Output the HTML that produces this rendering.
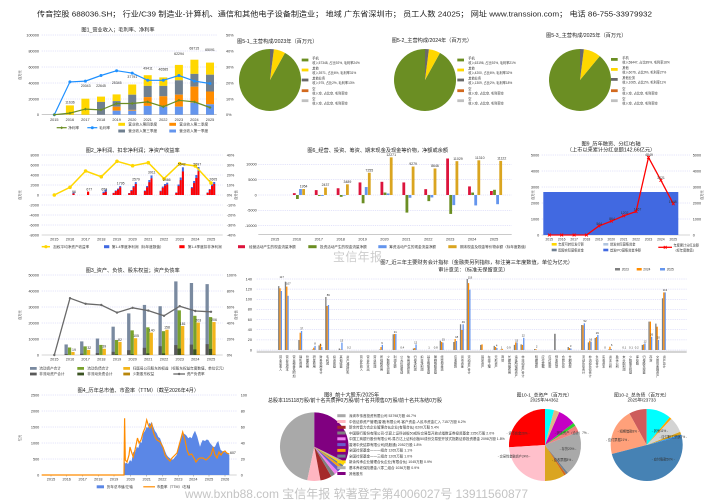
<!DOCTYPE html>
<html><head><meta charset="utf-8">
<style>
html,body{margin:0;padding:0;background:#fff;}
svg{display:block;}
text{font-family:"Liberation Sans","Noto Sans CJK SC",sans-serif;fill:#333;}
.tt{font-size:5.2px;fill:#222;}
.tk{font-size:3.8px;fill:#444;}
.lg{font-size:3.6px;}
.sm{font-size:3.2px;}
.vl{font-size:3.5px;fill:#222;}
.vt{font-size:3.1px;fill:#333;writing-mode:vertical-rl;}
.g{stroke:#c8c8f5;stroke-width:0.5;stroke-dasharray:1.2,1;fill:none;}
.ax{stroke:#aaa;stroke-width:0.6;}
</style></head><body>
<svg width="714" height="500" viewBox="0 0 714 500" xmlns="http://www.w3.org/2000/svg">
<rect width="714" height="500" fill="#fff"/>

<!-- HEADER -->
<text x="37" y="16.5" font-size="7.5" textLength="615" lengthAdjust="spacingAndGlyphs" style="fill:#222">传音控股 688036.SH； 行业/C39 制造业-计算机、通信和其他电子设备制造业； 地域 广东省深圳市； 员工人数 24025； 网址 www.transsion.com； 电话 86-755-33979932</text>

<!-- watermark mid -->
<text x="333" y="261" font-size="12" textLength="49" style="fill:#cdcdcd">宝信年报</text>

<!-- ============ CHART 1 ============ -->
<text class="tt" x="118" y="31.5" text-anchor="middle">图1_营业收入；毛利率、净利率</text>
<g class="g"><path d="M41.7,35H216.7M41.7,51H216.7M41.7,67H216.7M41.7,83H216.7M41.7,99H216.7"/></g>
<path class="ax" d="M41.7,114.7H216.7"/>
<g class="tk" text-anchor="end"><text x="39" y="36.3">100000</text><text x="39" y="52.3">80000</text><text x="39" y="68.3">60000</text><text x="39" y="84.3">40000</text><text x="39" y="100.3">20000</text><text x="39" y="116">0</text></g>
<g class="tk"><text x="226" y="36.3">50%</text><text x="226" y="52.3">40%</text><text x="226" y="68.3">30%</text><text x="226" y="84.3">20%</text><text x="226" y="100.3">10%</text><text x="226" y="116">0%</text></g>
<text class="sm" transform="translate(21,75) rotate(-90)" text-anchor="middle">百万元</text>
<g class="tk" text-anchor="middle"><text x="54.3" y="121">2015</text><text x="69.9" y="121">2016</text><text x="85.4" y="121">2017</text><text x="101" y="121">2018</text><text x="116.6" y="121">2019</text><text x="132.2" y="121">2020</text><text x="147.7" y="121">2021</text><text x="163.3" y="121">2022</text><text x="178.9" y="121">2023</text><text x="194.4" y="121">2024</text><text x="210" y="121">2025</text></g>
<!-- bars -->
<g fill="#ffd700">
<rect x="65.9" y="105.4" width="8" height="9.3"/>
<rect x="81.4" y="98.7" width="8" height="16"/>
<rect x="97" y="96.6" width="8" height="5.3"/>
<rect x="112.6" y="94.4" width="8" height="6.7"/>
<rect x="128.2" y="84.5" width="8" height="10.2"/>
<rect x="143.7" y="75.2" width="8" height="10.7"/>
<rect x="159.3" y="77.4" width="8" height="8.5"/>
<rect x="174.9" y="64.9" width="8" height="15.4"/>
<rect x="190.4" y="59.7" width="8" height="14.2"/>
<rect x="206" y="62.6" width="8" height="12.1"/>
</g>
<g fill="#708090">
<rect x="97" y="101.9" width="8" height="12.8"/>
<rect x="112.6" y="101.1" width="8" height="5.6"/>
<rect x="128.2" y="94.7" width="8" height="15.2"/>
<rect x="143.7" y="85.9" width="8" height="11.2"/>
<rect x="159.3" y="85.9" width="8" height="10.4"/>
<rect x="174.9" y="80.3" width="8" height="14.4"/>
<rect x="190.4" y="73.9" width="8" height="12.8"/>
<rect x="206" y="74.7" width="8" height="16.8"/>
</g>
<g fill="#ff8c00">
<rect x="112.6" y="106.7" width="8" height="4"/>
<rect x="128.2" y="109.9" width="8" height="0.8"/>
<rect x="143.7" y="97.1" width="8" height="8.8"/>
<rect x="159.3" y="96.3" width="8" height="10.4"/>
<rect x="174.9" y="94.7" width="8" height="12"/>
<rect x="190.4" y="86.7" width="8" height="16"/>
<rect x="206" y="91.5" width="8" height="12.8"/>
</g>
<g fill="#6495ed">
<rect x="112.6" y="110.7" width="8" height="4"/>
<rect x="128.2" y="110.7" width="8" height="4"/>
<rect x="143.7" y="105.9" width="8" height="8.8"/>
<rect x="159.3" y="106.7" width="8" height="8"/>
<rect x="174.9" y="106.7" width="8" height="8"/>
<rect x="190.4" y="102.7" width="8" height="12"/>
<rect x="206" y="104.3" width="8" height="10.4"/>
</g>
<polyline fill="none" stroke="#1e90ff" stroke-width="1.2" points="54.3,114.7 69.9,81.9 85.4,81.1 101,75.5 116.6,70.7 132.2,73.1 147.7,80.3 163.3,80.3 178.9,75.5 194.4,81.1 210,83.5"/>
<g fill="#1e90ff"><circle cx="54.3" cy="114.7" r="1.5"/><circle cx="69.9" cy="81.9" r="1.5"/><circle cx="85.4" cy="81.1" r="1.5"/><circle cx="101" cy="75.5" r="1.5"/><circle cx="116.6" cy="70.7" r="1.5"/><circle cx="132.2" cy="73.1" r="1.5"/><circle cx="147.7" cy="80.3" r="1.5"/><circle cx="163.3" cy="80.3" r="1.5"/><circle cx="178.9" cy="75.5" r="1.5"/><circle cx="194.4" cy="81.1" r="1.5"/><circle cx="210" cy="83.5" r="1.5"/></g>
<polyline fill="none" stroke="#6b8e23" stroke-width="1.2" points="54.3,114.7 69.9,113.1 85.4,109.1 101,109.9 116.6,103.5 132.2,103.5 147.7,101.9 163.3,106.7 178.9,100.3 194.4,101.9 210,107.5"/>
<g fill="#6b8e23">
<path d="M54.3,113.2l1.5,1.5l-1.5,1.5l-1.5,-1.5z"/><path d="M69.9,111.6l1.5,1.5l-1.5,1.5l-1.5,-1.5z"/><path d="M85.4,107.6l1.5,1.5l-1.5,1.5l-1.5,-1.5z"/><path d="M101,108.4l1.5,1.5l-1.5,1.5l-1.5,-1.5z"/><path d="M116.6,102l1.5,1.5l-1.5,1.5l-1.5,-1.5z"/><path d="M132.2,102l1.5,1.5l-1.5,1.5l-1.5,-1.5z"/><path d="M147.7,100.4l1.5,1.5l-1.5,1.5l-1.5,-1.5z"/><path d="M163.3,105.2l1.5,1.5l-1.5,1.5l-1.5,-1.5z"/><path d="M178.9,98.8l1.5,1.5l-1.5,1.5l-1.5,-1.5z"/><path d="M194.4,100.4l1.5,1.5l-1.5,1.5l-1.5,-1.5z"/><path d="M210,106l1.5,1.5l-1.5,1.5l-1.5,-1.5z"/>
</g>
<g class="vl" text-anchor="middle"><text x="70" y="103.5">11636</text><text x="85.7" y="87.2">20043</text><text x="101" y="87.2">22645</text><text x="116.7" y="83.9">25345</text><text x="132.3" y="78.2">37791</text><text x="148" y="69.5">49411</text><text x="163.3" y="70.5">46585</text><text x="179" y="54.9">62294</text><text x="194.3" y="49.5">68715</text><text x="210" y="51.2">65091</text></g>
<!-- legend 1 -->
<path d="M56.7,127.7H66.7" stroke="#6b8e23" stroke-width="1.2"/><path d="M61.7,126.2l1.5,1.5l-1.5,1.5l-1.5,-1.5z" fill="#6b8e23"/>
<text class="lg" x="68.3" y="129">净利率</text>
<path d="M87.3,127.7H97.3" stroke="#1e90ff" stroke-width="1.2"/><circle cx="92.3" cy="127.7" r="1.5" fill="#1e90ff"/>
<text class="lg" x="99.3" y="129">毛利率</text>
<rect x="118.3" y="122.8" width="6.7" height="3" fill="#ffd700"/><text class="lg" x="128.3" y="125.5">营业收入第四季度</text>
<rect x="169.3" y="122.8" width="6.7" height="3" fill="#ff8c00"/><text class="lg" x="179.3" y="125.5">营业收入第二季度</text>
<rect x="118.3" y="129.5" width="6.7" height="3" fill="#708090"/><text class="lg" x="128.3" y="132.2">营业收入第三季度</text>
<rect x="169.3" y="129.5" width="6.7" height="3" fill="#6495ed"/><text class="lg" x="179.3" y="132.2">营业收入第一季度</text>

<!-- ============ PIES 5 ============ -->
<text class="tt" x="237" y="43">图5-1_主营构成/2023年（百万元）</text>
<path d="M270,80 L270,49 A31,31 0 1 0 284.94,52.83 Z" fill="#6b8e23"/>
<path d="M270,80 L284.94,52.83 A31,31 0 0 0 273.88,49.24 Z" fill="#ffd700"/>
<path d="M270,80 L273.88,49.24 A31,31 0 0 0 270,49 Z" fill="#696969"/>
<g>
<rect x="301.7" y="58.6" width="6.7" height="2.8" fill="#6b8e23"/>
<rect x="301.7" y="68.6" width="6.7" height="2.8" fill="#ffd700"/>
<rect x="301.7" y="78.6" width="6.7" height="2.8" fill="#696969"/>
<rect x="301.7" y="89.3" width="6.7" height="2.8" fill="#d2691e"/>
<rect x="301.7" y="99.3" width="6.7" height="2.8" fill="#c0c0c0"/>
</g>
<g class="sm">
<text x="312.3" y="59.5">手机</text><text x="312.3" y="63.9">收入57348, 占比92%, 毛利率24%</text>
<text x="312.3" y="69.5">其他</text><text x="312.3" y="73.9">收入3971, 占比6%, 毛利率31%</text>
<text x="312.3" y="79.5">其他业务</text><text x="312.3" y="83.9">收入975, 占比2%, 毛利率13%</text>
<text x="312.3" y="90.2">空</text><text x="312.3" y="94.6">收入空, 占比空, 毛利率空</text>
<text x="312.3" y="100.2">空</text><text x="312.3" y="104.6">收入空, 占比空, 毛利率空</text>
</g>

<text class="tt" x="391.7" y="42">图5-2_主营构成/2024年（百万元）</text>
<path d="M425,80 L425,49 A31,31 0 1 0 439.94,52.83 Z" fill="#6b8e23"/>
<path d="M425,80 L439.94,52.83 A31,31 0 0 0 428.88,49.24 Z" fill="#ffd700"/>
<path d="M425,80 L428.88,49.24 A31,31 0 0 0 425,49 Z" fill="#696969"/>
<g>
<rect x="457.3" y="58.6" width="6.7" height="2.8" fill="#6b8e23"/>
<rect x="457.3" y="68.6" width="6.7" height="2.8" fill="#ffd700"/>
<rect x="457.3" y="78.6" width="6.7" height="2.8" fill="#696969"/>
<rect x="457.3" y="89.3" width="6.7" height="2.8" fill="#d2691e"/>
<rect x="457.3" y="99.3" width="6.7" height="2.8" fill="#c0c0c0"/>
</g>
<g class="sm">
<text x="468.3" y="59.5">手机</text><text x="468.3" y="63.9">收入63196, 占比92%, 毛利率21%</text>
<text x="468.3" y="69.5">其他</text><text x="468.3" y="73.9">收入4200, 占比6%, 毛利率32%</text>
<text x="468.3" y="79.5">其他业务</text><text x="468.3" y="83.9">收入1309, 占比2%, 毛利率18%</text>
<text x="468.3" y="90.2">空</text><text x="468.3" y="94.6">收入空, 占比空, 毛利率空</text>
<text x="468.3" y="100.2">空</text><text x="468.3" y="104.6">收入空, 占比空, 毛利率空</text>
</g>

<text class="tt" x="546" y="37">图5-3_主营构成/2025年（百万元）</text>
<path d="M580,80 L580,49 A31,31 0 1 0 599.76,56.11 Z" fill="#6b8e23"/>
<path d="M580,80 L599.76,56.11 A31,31 0 0 0 583.88,49.24 Z" fill="#ffd700"/>
<path d="M580,80 L583.88,49.24 A31,31 0 0 0 580,49 Z" fill="#696969"/>
<g>
<rect x="611" y="58" width="6.7" height="2.8" fill="#6b8e23"/>
<rect x="611" y="68" width="6.7" height="2.8" fill="#ffd700"/>
<rect x="611" y="78" width="6.7" height="2.8" fill="#696969"/>
<rect x="611" y="89.3" width="6.7" height="2.8" fill="#d2691e"/>
<rect x="611" y="99.3" width="6.7" height="2.8" fill="#c0c0c0"/>
</g>
<g class="sm">
<text x="622.3" y="58.9">手机</text><text x="622.3" y="63.3">收入58447, 占比89%, 毛利率18%</text>
<text x="622.3" y="68.9">其他</text><text x="622.3" y="73.3">收入6076, 占比9%, 毛利率27%</text>
<text x="622.3" y="78.9">其他业务</text><text x="622.3" y="83.3">收入1065, 占比2%, 毛利率11%</text>
<text x="622.3" y="90.2">空</text><text x="622.3" y="94.6">收入空, 占比空, 毛利率空</text>
<text x="622.3" y="100.2">空</text><text x="622.3" y="104.6">收入空, 占比空, 毛利率空</text>
</g>

<!-- ============ CHART 2 ============ -->
<text class="tt" x="132.7" y="151.8" text-anchor="middle">图2_净利润、扣非净利润；净资产收益率</text>
<g class="g"><path d="M41.7,155H222.7M41.7,165H222.7M41.7,175H222.7M41.7,185H222.7M41.7,195H222.7M41.7,205H222.7M41.7,215H222.7M41.7,225H222.7"/></g>
<path class="ax" d="M41.7,235H222.7"/>
<g class="tk" text-anchor="end"><text x="39" y="156.3">8000</text><text x="39" y="166.3">6000</text><text x="39" y="176.3">4000</text><text x="39" y="186.3">2000</text><text x="39" y="196.3">0</text><text x="39" y="206.3">-2000</text><text x="39" y="216.3">-4000</text><text x="39" y="226.3">-6000</text><text x="39" y="236.3">-8000</text></g>
<g class="tk"><text x="226.7" y="156.3">40%</text><text x="226.7" y="166.3">30%</text><text x="226.7" y="176.3">20%</text><text x="226.7" y="186.3">10%</text><text x="226.7" y="196.3">0%</text><text x="226.7" y="206.3">-10%</text><text x="226.7" y="216.3">-20%</text><text x="226.7" y="226.3">-30%</text><text x="226.7" y="236.3">-40%</text></g>
<text class="sm" transform="translate(21,195) rotate(-90)" text-anchor="middle">百万元</text>
<text class="sm" transform="translate(237,195) rotate(-90)" text-anchor="middle">百分比</text>
<g class="tk" text-anchor="middle"><text x="54.3" y="240.5">2015</text><text x="70" y="240.5">2016</text><text x="85.6" y="240.5">2017</text><text x="101.3" y="240.5">2018</text><text x="117" y="240.5">2019</text><text x="132.6" y="240.5">2020</text><text x="148.3" y="240.5">2021</text><text x="164" y="240.5">2022</text><text x="179.7" y="240.5">2023</text><text x="195.3" y="240.5">2024</text><text x="211" y="240.5">2025</text></g>
<g fill="#4169e1">
<rect x="72.4" y="192.5" width="2.2" height="2.5"/>
<rect x="102.5" y="191.7" width="2.1" height="3.3"/><rect x="104.7" y="189.5" width="2.1" height="5.5"/>
<rect x="112.6" y="192.8" width="2" height="2.2"/><rect x="114.8" y="190.4" width="2" height="4.6"/><rect x="117" y="188.55" width="2" height="6.45"/><rect x="119.2" y="186.02" width="2" height="8.98"/>
<rect x="128.2" y="193" width="2" height="2"/><rect x="130.4" y="190" width="2" height="5"/><rect x="132.6" y="186" width="2" height="9"/><rect x="134.8" y="182.1" width="2" height="12.9"/>
<rect x="143.9" y="190.5" width="2" height="4.5"/><rect x="146.1" y="186" width="2" height="9"/><rect x="148.3" y="180" width="2" height="15"/><rect x="150.5" y="175.44" width="2" height="19.56"/>
<rect x="159.6" y="190.7" width="2" height="4.3"/><rect x="161.8" y="186.5" width="2" height="8.5"/><rect x="164" y="184" width="2" height="11"/><rect x="166.2" y="182.67" width="2" height="12.33"/>
<rect x="175.3" y="192.5" width="2" height="2.5"/><rect x="177.5" y="184.5" width="2" height="10.5"/><rect x="179.7" y="177.5" width="2" height="17.5"/><rect x="181.9" y="167.29" width="2" height="27.71"/>
<rect x="190.9" y="187" width="2" height="8"/><rect x="193.1" y="181" width="2" height="14"/><rect x="195.3" y="175" width="2" height="20"/><rect x="197.5" y="167.01" width="2" height="27.99"/>
<rect x="206.6" y="192.5" width="2" height="2.5"/><rect x="208.8" y="189" width="2" height="6"/><rect x="211" y="184.25" width="2" height="10.75"/><rect x="213.2" y="181.97" width="2" height="13.03"/>
</g>
<g fill="#ff0000">
<rect x="72.4" y="193.5" width="2.2" height="1.5"/>
<rect x="87" y="191.6" width="2.2" height="3.4"/>
<rect x="102.5" y="193" width="2.1" height="2"/><rect x="104.7" y="191.7" width="2.1" height="3.3"/>
<rect x="112.6" y="193.13" width="2" height="1.87"/><rect x="114.8" y="191.09" width="2" height="3.91"/><rect x="117" y="189.52" width="2" height="5.48"/><rect x="119.2" y="187.37" width="2" height="7.63"/>
<rect x="128.2" y="193.3" width="2" height="1.7"/><rect x="130.4" y="190.75" width="2" height="4.25"/><rect x="132.6" y="187.35" width="2" height="7.65"/><rect x="134.8" y="184.04" width="2" height="10.96"/>
<rect x="143.9" y="191.17" width="2" height="3.83"/><rect x="146.1" y="187.35" width="2" height="7.65"/><rect x="148.3" y="182.25" width="2" height="12.75"/><rect x="150.5" y="178.38" width="2" height="16.62"/>
<rect x="159.6" y="191.34" width="2" height="3.66"/><rect x="161.8" y="187.77" width="2" height="7.23"/><rect x="164" y="185.65" width="2" height="9.35"/><rect x="166.2" y="184.52" width="2" height="10.48"/>
<rect x="175.3" y="192.87" width="2" height="2.13"/><rect x="177.5" y="186.07" width="2" height="8.93"/><rect x="179.7" y="180.12" width="2" height="14.88"/><rect x="181.9" y="171.45" width="2" height="23.55"/>
<rect x="190.9" y="188.2" width="2" height="6.8"/><rect x="193.1" y="183.1" width="2" height="11.9"/><rect x="195.3" y="178" width="2" height="17"/><rect x="197.5" y="171.21" width="2" height="23.79"/>
<rect x="206.6" y="192.87" width="2" height="2.13"/><rect x="208.8" y="189.9" width="2" height="5.1"/><rect x="211" y="185.86" width="2" height="9.14"/><rect x="213.2" y="183.93" width="2" height="11.07"/>
</g>
<polyline fill="none" stroke="#ffd700" stroke-width="1.5" points="54.3,195 70,187.3 85.6,171 101.3,176.7 117,161.3 132.6,165.7 148.3,162.7 164,178.7 179.7,163.7 195.3,166 211,183"/>
<g fill="#ffd700"><circle cx="54.3" cy="195" r="1.8"/><circle cx="70" cy="187.3" r="1.8"/><circle cx="85.6" cy="171" r="1.8"/><circle cx="101.3" cy="176.7" r="1.8"/><circle cx="117" cy="161.3" r="1.8"/><circle cx="132.6" cy="165.7" r="1.8"/><circle cx="148.3" cy="162.7" r="1.8"/><circle cx="164" cy="178.7" r="1.8"/><circle cx="179.7" cy="163.7" r="1.8"/><circle cx="195.3" cy="166" r="1.8"/><circle cx="211" cy="183" r="1.8"/></g>
<g class="vl" text-anchor="middle"><text x="74" y="192.9">96</text><text x="89.3" y="190.5">677</text><text x="104.3" y="190.5">653</text><text x="120.7" y="184.5">1795</text><text x="136" y="180.5">2579</text><text x="151.7" y="173.5">3911</text><text x="166.7" y="181.2">2466</text><text x="181.7" y="165.5">5542</text><text x="197.3" y="165.5">5597</text><text x="213.3" y="180.5">2605</text></g>
<path d="M41.7,246.7H50" stroke="#ffd700" stroke-width="1.5"/><circle cx="45.9" cy="246.7" r="1.6" fill="#ffd700"/>
<text class="lg" x="53.3" y="248">加权平均净资产收益率</text>
<rect x="104" y="245.2" width="5.3" height="3" fill="#4169e1"/><text class="lg" x="111.7" y="248">第1-4季度净利润（标年度数值）</text>
<rect x="179.3" y="245.2" width="5.3" height="3" fill="#ff0000"/><text class="lg" x="187.7" y="248">第1-4季度扣非净利润</text>

<!-- ============ CHART 6 ============ -->
<text class="tt" x="377.7" y="151.8" text-anchor="middle">图6_经营、投资、筹资、期末现金及现金等价物，净额或余额</text>
<g class="g"><path d="M258.3,164.3H511.7M258.3,179.7H511.7M258.3,195H511.7M258.3,210.3H511.7M258.3,225.7H511.7"/></g>
<path class="ax" d="M258.3,234.3H511.7"/>
<g class="tk" text-anchor="end"><text x="256.7" y="165.6">10000</text><text x="256.7" y="181">5000</text><text x="256.7" y="196.3">0</text><text x="256.7" y="211.6">-5000</text><text x="256.7" y="227">-10000</text></g>
<g class="tk" text-anchor="middle"><text x="275" y="240.5">2015</text><text x="296.9" y="240.5">2016</text><text x="318.8" y="240.5">2017</text><text x="340.7" y="240.5">2018</text><text x="362.6" y="240.5">2019</text><text x="384.5" y="240.5">2020</text><text x="406.4" y="240.5">2021</text><text x="428.3" y="240.5">2022</text><text x="450.2" y="240.5">2023</text><text x="472.1" y="240.5">2024</text><text x="494" y="240.5">2025</text></g>
<g fill="#dc143c">
<rect x="292.9" y="193.16" width="2.8" height="1.84"/><rect x="314.8" y="190.1" width="2.8" height="4.9"/><rect x="336.7" y="188.25" width="2.8" height="6.75"/><rect x="358.6" y="182.43" width="2.8" height="12.57"/><rect x="380.5" y="181.81" width="2.8" height="13.19"/><rect x="402.4" y="182.43" width="2.8" height="12.57"/><rect x="424.3" y="189.17" width="2.8" height="5.83"/><rect x="446.2" y="158.5" width="2.8" height="36.5"/><rect x="468.1" y="186.41" width="2.8" height="8.59"/><rect x="490" y="191.01" width="2.8" height="3.99"/>
</g>
<g fill="#6b8e23">
<rect x="296" y="195" width="2.8" height="3.99"/><rect x="317.9" y="195" width="2.8" height="0.92"/><rect x="339.8" y="195" width="2.8" height="1.84"/><rect x="361.7" y="195" width="2.8" height="8.28"/><rect x="383.6" y="192.55" width="2.8" height="2.45"/><rect x="405.5" y="195" width="2.8" height="17.6"/><rect x="427.4" y="195" width="2.8" height="6.13"/><rect x="449.3" y="195" width="2.8" height="18.92"/><rect x="471.2" y="192.55" width="2.8" height="2.45"/><rect x="493.1" y="189.79" width="2.8" height="5.21"/>
</g>
<g fill="#6495ed">
<rect x="299.1" y="189.02" width="2.8" height="5.98"/><rect x="321" y="195" width="2.8" height="0.92"/><rect x="342.9" y="195" width="2.8" height="0.61"/><rect x="364.8" y="187.03" width="2.8" height="7.97"/><rect x="386.7" y="193.47" width="2.8" height="1.53"/><rect x="408.6" y="195" width="2.8" height="2.76"/><rect x="430.5" y="195" width="2.8" height="2.45"/><rect x="452.4" y="195" width="2.8" height="10.12"/><rect x="474.3" y="195" width="2.8" height="10.43"/><rect x="496.2" y="195" width="2.8" height="9.2"/>
</g>
<g fill="#daa520">
<rect x="302.2" y="189.01" width="2.8" height="5.99"/><rect x="324.1" y="187.53" width="2.8" height="7.47"/><rect x="346" y="184.3" width="2.8" height="10.7"/><rect x="367.9" y="172.75" width="2.8" height="22.25"/><rect x="389.8" y="157.37" width="2.8" height="37.63"/><rect x="411.7" y="166.54" width="2.8" height="28.46"/><rect x="433.6" y="168.48" width="2.8" height="26.52"/><rect x="455.5" y="161.17" width="2.8" height="33.83"/><rect x="477.4" y="160.31" width="2.8" height="34.69"/><rect x="499.3" y="160.89" width="2.8" height="34.11"/>
</g>
<g class="vl" text-anchor="middle"><text x="303.6" y="187.6">1954</text><text x="325.5" y="186.1">2437</text><text x="347.4" y="182.9">3489</text><text x="369.3" y="171.4">7255</text><text x="391.2" y="156">12271</text><text x="413.1" y="165.2">9279</text><text x="435" y="167.1">8646</text><text x="458" y="159.8">11029</text><text x="479.8" y="159">11310</text><text x="501.7" y="159.6">11122</text></g>
<rect x="238" y="245.2" width="7" height="3" fill="#dc143c"/><text class="lg" x="249" y="248.1">经营活动产生的现金流量净额</text>
<rect x="308.3" y="245.2" width="8.3" height="3" fill="#6b8e23"/><text class="lg" x="320" y="248.1">投资活动产生的现金流量净额</text>
<rect x="378.3" y="245.2" width="8.3" height="3" fill="#6495ed"/><text class="lg" x="389.3" y="248.1">筹资活动产生的现金流量净额</text>
<rect x="448.3" y="245.2" width="8.3" height="3" fill="#daa520"/><text class="lg" x="460" y="248.1">期末现金及现金等价物余额（标年度数值）</text>

<!-- ============ CHART 9 ============ -->
<text class="tt" x="611" y="145.5" text-anchor="middle">图9_历年融资、分红/右轴</text>
<text class="tt" x="611" y="151.7" text-anchor="middle">（上市以来累计分红总额142.66亿元）</text>
<g class="g"><path d="M541.7,155H690M541.7,171H690M541.7,187H690M541.7,203H690M541.7,219H690"/></g>
<path class="ax" d="M541.7,235H690"/>
<g class="tk" text-anchor="end"><text x="539.3" y="156.3">5000</text><text x="539.3" y="172.3">4000</text><text x="539.3" y="188.3">3000</text><text x="539.3" y="204.3">2000</text><text x="539.3" y="220.3">1000</text><text x="539.3" y="236.3">0</text></g>
<g class="tk"><text x="692.7" y="156.3">5000</text><text x="692.7" y="172.3">4000</text><text x="692.7" y="188.3">3000</text><text x="692.7" y="204.3">2000</text><text x="692.7" y="220.3">1000</text><text x="692.7" y="236.3">0</text></g>
<text class="sm" transform="translate(534,195) rotate(-90)" text-anchor="middle">百万元</text>
<text class="sm" transform="translate(703,195) rotate(-90)" text-anchor="middle">百万元</text>
<rect x="543.3" y="192" width="135" height="43" fill="#4169e1"/>
<g class="tk" text-anchor="middle" style="font-size:3.4px"><text x="549.3" y="240.5">2015</text><text x="561.7" y="240.5">2016</text><text x="574.1" y="240.5">2017</text><text x="586.5" y="240.5">2018</text><text x="598.9" y="240.5">2019</text><text x="611.3" y="240.5">2020</text><text x="623.7" y="240.5">2021</text><text x="636.1" y="240.5">2022</text><text x="648.5" y="240.5">2023</text><text x="660.9" y="240.5">2024</text><text x="673.3" y="240.5">2025</text></g>
<polyline fill="none" stroke="#ff0000" stroke-width="1.3" points="549.3,235 561.7,235 574.1,235 586.5,235 598.9,226 611.3,221.2 623.7,215.8 636.1,211.5 648.5,157.4 660.9,180.3 673.3,203.8"/>
<g stroke="#ff0000" stroke-width="0.9" fill="none">
<path d="M547.9,233.6l2.8,2.8m0,-2.8l-2.8,2.8M560.3,233.6l2.8,2.8m0,-2.8l-2.8,2.8M572.7,233.6l2.8,2.8m0,-2.8l-2.8,2.8M585.1,233.6l2.8,2.8m0,-2.8l-2.8,2.8M597.5,224.6l2.8,2.8m0,-2.8l-2.8,2.8M609.9,219.8l2.8,2.8m0,-2.8l-2.8,2.8M622.3,214.4l2.8,2.8m0,-2.8l-2.8,2.8M634.7,210.1l2.8,2.8m0,-2.8l-2.8,2.8M647.1,156l2.8,2.8m0,-2.8l-2.8,2.8M659.5,178.9l2.8,2.8m0,-2.8l-2.8,2.8M671.9,202.4l2.8,2.8m0,-2.8l-2.8,2.8"/>
</g>
<g class="vl" text-anchor="middle"><text x="599.3" y="225">564</text><text x="612" y="220">864</text><text x="624.6" y="214">1202</text><text x="637.5" y="210.3">1467</text><text x="649" y="156">4849</text><text x="661" y="178.8">3421</text><text x="672.7" y="202.8">1948</text></g>
<rect x="551.7" y="243" width="5" height="2.6" fill="#ffd700"/><text class="sm" x="558.3" y="245.6">年度可转债发行额</text>
<rect x="603.3" y="243" width="5" height="2.6" fill="#b0c4de"/><text class="sm" x="610" y="245.6">增发实际募集资金</text>
<rect x="551.7" y="248.7" width="5" height="2.6" fill="#708090"/><text class="sm" x="558.3" y="251.3">配股实际募集资金</text>
<rect x="603.3" y="248.7" width="5" height="2.6" fill="#4169e1"/><text class="sm" x="610" y="251.3">首发IPO募集资金净额</text>
<path d="M658.3,247.3H672" stroke="#ff0000" stroke-width="1.3"/><path d="M663.8,245.9l2.8,2.8m0,-2.8l-2.8,2.8" stroke="#ff0000" stroke-width="0.9"/>
<text class="sm" x="673.5" y="246.5">年度累计分红总额</text><text class="sm" x="673.5" y="251.3">（标年度数值）</text>

<!-- ============ CHART 3 ============ -->
<text class="tt" x="132.7" y="271.8" text-anchor="middle">图3_资产、负债、股东权益；资产负债率</text>
<g class="g"><path d="M41.7,275H222.7M41.7,291H222.7M41.7,307H222.7M41.7,323H222.7M41.7,339H222.7"/></g>
<path class="ax" d="M41.7,355H222.7"/>
<g class="tk" text-anchor="end"><text x="39" y="276.3">50000</text><text x="39" y="292.3">40000</text><text x="39" y="308.3">30000</text><text x="39" y="324.3">20000</text><text x="39" y="340.3">10000</text><text x="39" y="356.3">0</text></g>
<g class="tk"><text x="226.7" y="276.3">100%</text><text x="226.7" y="292.3">80%</text><text x="226.7" y="308.3">60%</text><text x="226.7" y="324.3">40%</text><text x="226.7" y="340.3">20%</text><text x="226.7" y="356.3">0%</text></g>
<text class="sm" transform="translate(21,315) rotate(-90)" text-anchor="middle">百万元</text>
<text class="sm" transform="translate(237,315) rotate(-90)" text-anchor="middle">百分比</text>
<g class="tk" text-anchor="middle"><text x="54.3" y="360.5">2015</text><text x="70" y="360.5">2016</text><text x="85.6" y="360.5">2017</text><text x="101.3" y="360.5">2018</text><text x="117" y="360.5">2019</text><text x="132.6" y="360.5">2020</text><text x="148.3" y="360.5">2021</text><text x="164" y="360.5">2022</text><text x="179.7" y="360.5">2023</text><text x="195.3" y="360.5">2024</text><text x="211" y="360.5">2025</text></g>
<g fill="#7a8aa0">
<rect x="64.5" y="344.44" width="3.3" height="10.56"/><rect x="80.1" y="341.4" width="3.3" height="13.6"/><rect x="95.8" y="338.52" width="3.3" height="16.48"/><rect x="111.5" y="326.68" width="3.3" height="28.32"/><rect x="127.1" y="313.4" width="3.3" height="41.6"/><rect x="142.8" y="304.92" width="3.3" height="50.08"/><rect x="158.5" y="306.2" width="3.3" height="48.8"/><rect x="174.2" y="281.4" width="3.3" height="73.6"/><rect x="189.8" y="283" width="3.3" height="72"/><rect x="205.5" y="284.12" width="3.3" height="70.88"/>
</g>
<g fill="#595959">
<rect x="64.5" y="354.04" width="3.3" height="0.96"/><rect x="80.1" y="353.72" width="3.3" height="1.28"/><rect x="95.8" y="353.08" width="3.3" height="1.92"/><rect x="111.5" y="351.8" width="3.3" height="3.2"/><rect x="127.1" y="350.2" width="3.3" height="4.8"/><rect x="142.8" y="347.8" width="3.3" height="7.2"/><rect x="158.5" y="346.2" width="3.3" height="8.8"/><rect x="174.2" y="345.08" width="3.3" height="9.92"/><rect x="189.8" y="344.6" width="3.3" height="10.4"/><rect x="205.5" y="344.12" width="3.3" height="10.88"/>
</g>
<g fill="#79a22c">
<rect x="67.9" y="347.48" width="3.3" height="7.52"/><rect x="83.5" y="346.36" width="3.3" height="8.64"/><rect x="99.2" y="344.92" width="3.3" height="10.08"/><rect x="114.9" y="339.96" width="3.3" height="15.04"/><rect x="130.5" y="330.36" width="3.3" height="24.64"/><rect x="146.2" y="327.32" width="3.3" height="27.68"/><rect x="161.9" y="331.16" width="3.3" height="23.84"/><rect x="177.6" y="310.36" width="3.3" height="44.64"/><rect x="193.2" y="315.8" width="3.3" height="39.2"/><rect x="208.9" y="317.08" width="3.3" height="37.92"/>
</g>
<g fill="#3b5323">
<rect x="114.9" y="354.36" width="3.3" height="0.64"/><rect x="130.5" y="354.2" width="3.3" height="0.8"/><rect x="146.2" y="353.4" width="3.3" height="1.6"/><rect x="161.9" y="353.4" width="3.3" height="1.6"/><rect x="177.6" y="348.6" width="3.3" height="6.4"/><rect x="193.2" y="349.4" width="3.3" height="5.6"/><rect x="208.9" y="348.92" width="3.3" height="6.08"/>
</g>
<g fill="#f3b51b">
<rect x="71.3" y="351.96" width="3.3" height="3.04"/><rect x="86.9" y="349.88" width="3.3" height="5.12"/><rect x="102.6" y="348.76" width="3.3" height="6.24"/><rect x="118.3" y="341.88" width="3.3" height="13.12"/><rect x="133.9" y="338.2" width="3.3" height="16.8"/><rect x="149.6" y="332.6" width="3.3" height="22.4"/><rect x="165.3" y="329.72" width="3.3" height="25.28"/><rect x="181" y="326.04" width="3.3" height="28.96"/><rect x="196.6" y="322.52" width="3.3" height="32.48"/><rect x="212.3" y="322.04" width="3.3" height="32.96"/>
</g>
<g fill="#b8860b"><rect x="181" y="354.3" width="3.3" height="0.7"/><rect x="196.6" y="354.3" width="3.3" height="0.7"/><rect x="212.3" y="354.3" width="3.3" height="0.7"/></g>
<polyline fill="none" stroke="#696969" stroke-width="1.3" points="54.3,355 70,298.2 85.6,303.8 101.3,305 117,312.6 132.6,307.8 148.3,310.6 164,315.8 179.7,306.2 195.3,311 211,311.8"/>
<g fill="#696969"><circle cx="54.3" cy="355" r="1.2"/><circle cx="70" cy="298.2" r="1.2"/><circle cx="85.6" cy="303.8" r="1.2"/><circle cx="101.3" cy="305" r="1.2"/><circle cx="117" cy="312.6" r="1.2"/><circle cx="132.6" cy="307.8" r="1.2"/><circle cx="148.3" cy="310.6" r="1.2"/><circle cx="164" cy="315.8" r="1.2"/><circle cx="179.7" cy="306.2" r="1.2"/><circle cx="195.3" cy="311" r="1.2"/><circle cx="211" cy="311.8" r="1.2"/></g>
<g class="vl" text-anchor="middle"><text x="74" y="351">19</text><text x="89.3" y="348.8">32</text><text x="104.3" y="347.6">39</text><text x="120" y="340.8">82</text><text x="136" y="337">105</text><text x="151.7" y="331.5">140</text><text x="167" y="328.6">158</text><text x="182.7" y="324.9">181</text><text x="198.3" y="321.4">203</text><text x="214" y="320.9">206</text></g>
<rect x="30" y="367" width="6.7" height="2.8" fill="#7a8aa0"/><text class="lg" x="39.3" y="369.6">流动资产合计</text>
<rect x="77.3" y="367" width="6.7" height="2.8" fill="#79a22c"/><text class="lg" x="87.3" y="369.6">流动负债合计</text>
<rect x="123.3" y="367" width="6.7" height="2.8" fill="#f3b51b"/><text class="lg" x="132.7" y="369.6">归属母公司股东的权益（标股东权益年度数值，单位亿元）</text>
<rect x="30" y="372.6" width="6.7" height="2.8" fill="#595959"/><text class="lg" x="39.3" y="375.2">非流动资产合计</text>
<rect x="77.3" y="372.6" width="6.7" height="2.8" fill="#3b5323"/><text class="lg" x="87.3" y="375.2">非流动负债合计</text>
<rect x="123.3" y="372.6" width="6.7" height="2.8" fill="#b8860b"/><text class="lg" x="132.7" y="375.2">少数股东权益</text>
<path d="M173.3,374H185" stroke="#696969" stroke-width="1.3"/><circle cx="179.1" cy="374" r="1.2" fill="#696969"/>
<text class="lg" x="186.7" y="375.2">资产负债率</text>

<!-- ============ CHART 7 ============ -->
<text class="tt" x="476.7" y="264" text-anchor="middle">图7_近三年主要财务会计指标（金融类另列指标，标注第三年度数值，单位为亿元）</text>
<text class="tt" x="473.3" y="271.5" text-anchor="middle">审计意见：（标准无保留意见）</text>
<rect x="615" y="268" width="5" height="2.5" fill="#808080"/><text class="sm" x="621.7" y="270.4">2023</text>
<rect x="636.7" y="268" width="5" height="2.5" fill="#ff8c00"/><text class="sm" x="643.3" y="270.4">2024</text>
<rect x="660" y="268" width="5" height="2.5" fill="#6495ed"/><text class="sm" x="666.7" y="270.4">2025</text>
<g class="g"><path d="M256.7,279H686.7M256.7,289.1H686.7M256.7,299.3H686.7M256.7,309.4H686.7M256.7,319.6H686.7M256.7,329.7H686.7M256.7,339.9H686.7M256.7,350H686.7"/></g>
<rect x="256.7" y="350.8" width="430" height="2.2" fill="#d4d4d4"/>
<g class="tk" text-anchor="end"><text x="252" y="280.3">140</text><text x="252" y="290.4">120</text><text x="252" y="300.6">100</text><text x="252" y="310.7">80</text><text x="252" y="320.9">60</text><text x="252" y="331">40</text><text x="252" y="341.2">20</text><text x="252" y="351.3">0</text></g>
<g fill="#808080">
<rect x="278.1" y="286.1" width="1.3" height="63.9"/><rect x="284.8" y="281.7" width="1.3" height="68.3"/><rect x="298.3" y="340" width="1.3" height="10"/><rect x="311.8" y="349.5" width="1.3" height="0.5"/><rect x="318.5" y="345.4" width="1.3" height="4.6"/><rect x="325.2" y="297" width="1.3" height="53"/><rect x="338.7" y="348.5" width="1.3" height="1.5"/><rect x="379.1" y="349.5" width="1.3" height="0.5"/><rect x="392.6" y="334.3" width="1.3" height="15.7"/><rect x="412.8" y="348.5" width="1.3" height="1.5"/><rect x="439.7" y="340.7" width="1.3" height="9.3"/><rect x="453.2" y="342" width="1.3" height="8"/><rect x="459.9" y="324.3" width="1.3" height="25.7"/><rect x="466.6" y="279" width="1.3" height="71"/><rect x="480.1" y="344.9" width="1.3" height="5.1"/><rect x="493.6" y="345.9" width="1.3" height="4.1"/><rect x="500.3" y="349.5" width="1.3" height="0.5"/><rect x="513.8" y="344.9" width="1.3" height="5.1"/><rect x="520.5" y="344.4" width="1.3" height="5.6"/><rect x="534" y="349" width="1.3" height="1"/><rect x="554.1" y="333.8" width="1.6" height="16.2"/><rect x="567.6" y="347" width="1.3" height="3"/><rect x="581.1" y="325" width="1.3" height="25"/><rect x="587.8" y="342.4" width="1.3" height="7.6"/><rect x="594.6" y="338" width="1.3" height="12"/><rect x="608" y="349.5" width="1.3" height="0.5"/><rect x="641.7" y="344.9" width="1.3" height="5.1"/><rect x="648.4" y="321.6" width="1.3" height="28.4"/><rect x="655.2" y="323.6" width="1.3" height="26.4"/><rect x="661.9" y="298.3" width="1.3" height="51.7"/>
</g>
<g fill="#ff8c00">
<rect x="279.4" y="288.3" width="1.3" height="61.7"/><rect x="286.1" y="286.6" width="1.3" height="63.4"/><rect x="299.6" y="332.7" width="1.3" height="17.3"/><rect x="313.1" y="347.7" width="1.3" height="2.3"/><rect x="319.8" y="343.7" width="1.3" height="6.3"/><rect x="326.5" y="306" width="1.3" height="44"/><rect x="340" y="349.5" width="1.3" height="0.5"/><rect x="380.4" y="347" width="1.3" height="3"/><rect x="393.9" y="334" width="1.3" height="16"/><rect x="414.1" y="348" width="1.3" height="2"/><rect x="441" y="341.9" width="1.3" height="8.1"/><rect x="454.5" y="339" width="1.3" height="11"/><rect x="461.2" y="330" width="1.3" height="20"/><rect x="467.9" y="283.1" width="1.3" height="66.9"/><rect x="481.4" y="344.4" width="1.3" height="5.6"/><rect x="494.9" y="347" width="1.3" height="3"/><rect x="501.6" y="349" width="1.3" height="1"/><rect x="515.1" y="342.4" width="1.3" height="7.6"/><rect x="521.8" y="344.9" width="1.3" height="5.1"/><rect x="535.3" y="349.2" width="1.3" height="0.8"/><rect x="568.9" y="348" width="1.3" height="2"/><rect x="582.4" y="325.2" width="1.3" height="24.8"/><rect x="589.1" y="341" width="1.3" height="9"/><rect x="595.9" y="337" width="1.3" height="13"/><rect x="609.3" y="346.7" width="1.3" height="3.3"/><rect x="643" y="344.4" width="1.3" height="5.6"/><rect x="649.7" y="321.6" width="1.3" height="28.4"/><rect x="656.5" y="326.7" width="1.3" height="23.3"/><rect x="663.2" y="292.4" width="1.3" height="57.6"/>
</g>
<g fill="#6495ed">
<rect x="280.7" y="291" width="1.3" height="59"/><rect x="287.4" y="295.8" width="1.3" height="54.2"/><rect x="300.9" y="331" width="1.3" height="19"/><rect x="314.4" y="345.9" width="1.3" height="4.1"/><rect x="321.1" y="347" width="1.3" height="3"/><rect x="327.8" y="305" width="1.3" height="45"/><rect x="341.3" y="342.6" width="1.3" height="7.4"/><rect x="381.7" y="344.9" width="1.3" height="5.1"/><rect x="395.2" y="334" width="1.3" height="16"/><rect x="415.4" y="344.4" width="1.3" height="5.6"/><rect x="442.3" y="342.6" width="1.3" height="7.4"/><rect x="455.8" y="341" width="1.3" height="9"/><rect x="462.5" y="324.3" width="1.3" height="25.7"/><rect x="469.2" y="289.7" width="1.3" height="60.3"/><rect x="496.2" y="348" width="1.3" height="2"/><rect x="516.4" y="342.4" width="1.3" height="7.6"/><rect x="523.1" y="337.8" width="1.3" height="12.2"/><rect x="570.2" y="348.5" width="1.3" height="1.5"/><rect x="583.7" y="323.3" width="1.3" height="26.7"/><rect x="590.4" y="341.7" width="1.3" height="8.3"/><rect x="597.2" y="335" width="1.3" height="15"/><rect x="610.6" y="349" width="1.3" height="1"/><rect x="644.3" y="343.4" width="1.3" height="6.6"/><rect x="651" y="336.8" width="1.3" height="13.2"/><rect x="657.8" y="339.9" width="1.3" height="10.1"/><rect x="664.5" y="292.4" width="1.3" height="57.6"/>
</g>
<g text-anchor="middle" style="font-size:2.8px">
<text x="281.7" y="278">117</text><text x="288.3" y="284.5">107</text><text x="301.7" y="329.5">37</text><text x="315" y="344.5">8</text><text x="320.7" y="346">6</text><text x="328.3" y="296">89</text><text x="341.7" y="341.5">13</text><text x="349" y="348.5">0.2</text><text x="382" y="344">9</text><text x="395.3" y="333">31</text><text x="402.3" y="348.5">0.4</text><text x="415.7" y="343.5">12</text><text x="429" y="348.5">1</text><text x="435.7" y="348.5">0.8</text><text x="443.3" y="340.5">15</text><text x="456.7" y="338">18</text><text x="463.3" y="323">49</text><text x="470" y="278.3">119</text><text x="496.7" y="346.5">4</text><text x="501.7" y="348.5">1</text><text x="508.7" y="348.5">0.9</text><text x="516.7" y="341.5">15</text><text x="523.3" y="336.5">22</text><text x="536.7" y="347.5">2</text><text x="570.7" y="347">3</text><text x="585" y="322">52</text><text x="590.7" y="340.5">16</text><text x="597.3" y="334">29</text><text x="605" y="348.5">0</text><text x="611.7" y="346">6</text><text x="624.3" y="348.5">0.1</text><text x="631" y="348.5">0.1</text><text x="636.7" y="348.5">0.2</text><text x="645" y="342.5">12</text><text x="651.7" y="335.5">26</text><text x="658.3" y="338.5">20</text><text x="665" y="291">113</text>
</g>
<g class="vt">
<text x="280" y="355.5">营业总收入</text><text x="286.7" y="355.5">营业总成本</text><text x="293.5" y="355.5">营业税金及附加</text><text x="300.2" y="355.5">销售费用</text><text x="306.9" y="355.5">管理费用</text><text x="313.7" y="355.5">研发费用</text><text x="320.4" y="355.5">财务费用合计</text><text x="327.1" y="355.5">毛利润</text><text x="333.9" y="355.5">投资收益</text><text x="340.6" y="355.5">其他收益</text><text x="347.3" y="355.5">资产减值损失</text>
<text x="360.8" y="355.5">营业外收入</text><text x="367.5" y="355.5">营业外支出</text><text x="374.3" y="355.5">营业利润</text><text x="381" y="355.5">所得税费用</text><text x="387.7" y="355.5">少数股东损益</text><text x="394.5" y="355.5">利润总额</text><text x="401.2" y="355.5">公允价值变动</text><text x="407.9" y="355.5">信用减值损失</text><text x="414.7" y="355.5">归母净利润</text><text x="421.4" y="355.5">扣非净利润</text><text x="428.1" y="355.5">基本每股收益</text><text x="434.9" y="355.5">稀释每股收益</text><text x="441.6" y="355.5">经营现金流</text>
<text x="455.1" y="355.5">应收账款</text><text x="461.8" y="355.5">货币资金</text><text x="468.5" y="355.5">流动资产合计</text>
<text x="482" y="355.5">固定资产</text><text x="488.7" y="355.5">在建工程</text><text x="495.5" y="355.5">无形资产</text><text x="502.2" y="355.5">商誉</text><text x="508.9" y="355.5">长期待摊费用</text><text x="515.7" y="355.5">递延所得税资产</text><text x="522.4" y="355.5">非流动资产合计</text>
<text x="535.9" y="355.5">短期借款</text><text x="542.6" y="355.5">应付票据</text><text x="549.3" y="355.5">应付账款</text><text x="556.1" y="355.5">预收款项</text><text x="562.8" y="355.5">合同负债</text><text x="569.5" y="355.5">长期借款</text>
<text x="583" y="355.5">流动负债合计</text><text x="589.7" y="355.5">非流动负债合计</text><text x="596.5" y="355.5">负债合计</text><text x="603.2" y="355.5">实收资本</text><text x="609.9" y="355.5">资本公积</text><text x="616.7" y="355.5">盈余公积</text><text x="623.4" y="355.5">未分配利润</text><text x="630.1" y="355.5">少数股东权益</text><text x="636.9" y="355.5">库存股</text><text x="643.6" y="355.5">归母股东权益</text><text x="650.3" y="355.5">存货</text><text x="657.1" y="355.5">交易性金融资产</text><text x="663.8" y="355.5">资产总计</text>
</g>

<!-- ============ CHART 4 ============ -->
<text class="tt" x="138.3" y="391.8" text-anchor="middle">图4_历年总市值、市盈率（TTM）（截至2026年4月）</text>
<g class="g"><path d="M41.7,395H236.7M41.7,411H236.7M41.7,427H236.7M41.7,443H236.7M41.7,459H236.7"/></g>
<path class="ax" d="M41.7,475H236.7"/>
<g class="tk" text-anchor="end"><text x="39.3" y="396.3">2500</text><text x="39.3" y="412.3">2000</text><text x="39.3" y="428.3">1500</text><text x="39.3" y="444.3">1000</text><text x="39.3" y="460.3">500</text><text x="39.3" y="476.3">0</text></g>
<g class="tk"><text x="240.7" y="396.3">100</text><text x="240.7" y="412.3">80</text><text x="240.7" y="428.3">60</text><text x="240.7" y="444.3">40</text><text x="240.7" y="460.3">20</text><text x="240.7" y="476.3">0</text></g>
<text class="sm" transform="translate(21,438) rotate(-90)" text-anchor="middle">亿元</text>
<path d="M51,475v1.5M66.7,475v1.5M82.7,475v1.5M98.3,475v1.5M114,475v1.5M130.7,475v1.5M146.7,475v1.5M162.3,475v1.5M178.3,475v1.5M193.3,475v1.5M209,475v1.5M225,475v1.5" stroke="#666" stroke-width="0.4"/>
<g class="tk" text-anchor="middle"><text x="51" y="480.5">2015</text><text x="66.7" y="480.5">2016</text><text x="82.7" y="480.5">2017</text><text x="98.3" y="480.5">2018</text><text x="114" y="480.5">2019</text><text x="130.7" y="480.5">2020</text><text x="146.7" y="480.5">2021</text><text x="162.3" y="480.5">2022</text><text x="178.3" y="480.5">2023</text><text x="193.3" y="480.5">2024</text><text x="209" y="480.5">2025</text><text x="225" y="480.5">2026</text></g>
<path fill="#5b87e6" d="M124.3,475 L124.3,461.7 L125.5,463.5 L126.7,462.7 L128,464 L130,460 L131.5,461.5 L133.3,451.7 L135,452.5 L136.7,446.7 L138.3,448 L140,441.7 L141.5,443 L143.3,433.3 L145,431 L146.7,426.7 L148,428 L149.3,422.7 L150.5,424 L151.7,421.7 L153.3,426.7 L155,431 L156.7,433.3 L158.3,437 L160,438.3 L161.7,443 L163.3,446.7 L165,451 L166.7,455 L168.3,457 L170,458.3 L171.7,459.8 L173.3,459.3 L175,457 L176.7,455 L178.3,449 L180,443.3 L181.7,437 L183.3,433.3 L186,435 L188.3,438.3 L190,437 L191.7,438.3 L193.3,434 L195,430.7 L197.3,436.7 L198.7,442 L200,446.7 L201.3,443 L202.7,440 L205,441 L206.7,439.5 L208.3,440 L210,443 L211.7,445 L213.3,447 L215,446.7 L216.7,443 L218.3,441 L219.5,446 L220.7,450 L223.3,451.7 L226.7,452.7 L229.3,455 L229.3,475 Z"/>
<polyline fill="none" stroke="#ff8c00" stroke-width="1.2" points="41.7,475 124,475 124.6,418.3 125.3,460 127,462 129,455 130,447 131.5,452 133.3,457 135,450 137.5,438 139,443 141,440 143.3,432 145,428 146.7,420 148.3,425 150,428 151.7,424 153.3,432 155,437 157,440 160,441.7 163.3,448 165,455 167,458 170,461 172,458 174,456 177,453 180,442 182.7,432 185,440 187,450 189,455 191.7,454 194,458 196,462 198.3,459 200,458 203,458 206,460 208.3,458 211,455 213,448 215,455 217,458 219,452 221,455 223,452 225,451 226.7,453 229.3,454"/>
<text class="vl" x="230" y="454">607</text>
<rect x="96.7" y="485.3" width="7.3" height="3" fill="#5b87e6"/><text class="lg" x="106.7" y="488">历年总市值/左轴</text>
<path d="M143.3,486.8H155" stroke="#ff8c00" stroke-width="1.2"/><text class="lg" x="156.7" y="488">市盈率（TTM）/右轴</text>

<!-- ============ CHART 8 ============ -->
<text class="tt" x="351.7" y="396.5" text-anchor="middle">图8_前十大股东/2025年</text>
<text class="tt" x="268" y="402.2" textLength="174" lengthAdjust="spacingAndGlyphs">总股本115118万股/前十名共质押0万股/前十名共限售0万股/前十名共冻结0万股</text>
<path d="M314.3,446.7 L314.3,412.4 A34.3,34.3 0 0 0 307.24,480.27 Z" fill="#a9a9a9"/>
<path d="M314.3,446.7 L307.24,480.27 A34.3,34.3 0 0 0 320.52,480.43 Z" fill="#ffb6c1"/>
<path d="M314.3,446.7 L320.52,480.43 A34.3,34.3 0 0 0 331.38,476.44 Z" fill="#a52a2a"/>
<path d="M314.3,446.7 L331.38,476.44 A34.3,34.3 0 0 0 334.97,474.07 Z" fill="#808080"/>
<path d="M314.3,446.7 L334.97,474.07 A34.3,34.3 0 0 0 337.93,471.56 Z" fill="#ee82ee"/>
<path d="M314.3,446.7 L337.93,471.56 A34.3,34.3 0 0 0 340.59,468.73 Z" fill="#6a5acd"/>
<path d="M314.3,446.7 L340.59,468.73 A34.3,34.3 0 0 0 342.05,466.86 Z" fill="#ffa500"/>
<path d="M314.3,446.7 L342.05,466.86 A34.3,34.3 0 0 0 343.26,465.08 Z" fill="#708090"/>
<path d="M314.3,446.7 L343.26,465.08 A34.3,34.3 0 0 0 344.25,463.41 Z" fill="#ffd700"/>
<path d="M314.3,446.7 L344.25,463.41 A34.3,34.3 0 0 0 345.15,461.7 Z" fill="#b0b0b0"/>
<path d="M314.3,446.7 L345.15,461.7 A34.3,34.3 0 0 0 314.3,412.4 Z" fill="#800080"/>
<g>
<rect x="337.3" y="414.2" width="8.3" height="3" fill="#a9a9a9"/>
<rect x="337.3" y="420" width="8.3" height="3" fill="#ffb6c1"/>
<rect x="337.3" y="425.8" width="8.3" height="3" fill="#a52a2a"/>
<rect x="337.3" y="431.5" width="8.3" height="3" fill="#808080"/>
<rect x="337.3" y="437.3" width="8.3" height="3" fill="#ee82ee"/>
<rect x="337.3" y="443.1" width="8.3" height="3" fill="#6a5acd"/>
<rect x="337.3" y="448.9" width="8.3" height="3" fill="#ffa500"/>
<rect x="337.3" y="454.6" width="8.3" height="3" fill="#708090"/>
<rect x="337.3" y="460.4" width="8.3" height="3" fill="#ffd700"/>
<rect x="337.3" y="466.2" width="8.3" height="3" fill="#b0b0b0"/>
<rect x="337.3" y="472" width="8.3" height="3" fill="#800080"/>
</g>
<g style="font-size:3.5px">
<text x="349" y="417">深圳市传音投资有限公司 53798万股 46.7%</text>
<text x="349" y="422.8">中信证券资产管理(香港)有限公司-客户资金-人民币资金汇入 7157万股 6.2%</text>
<text x="349" y="428.6">新余传音力合企业管理合伙企业(有限合伙) 6200万股 5.4%</text>
<text x="349" y="434.3">中国银行股份有限公司-华夏上证科创板50成份交易型开放式指数证券投资基金 2250万股 2.0%</text>
<text x="349" y="440.1">中国工商银行股份有限公司-易方达上证科创板50成份交易型开放式指数证券投资基金 2098万股 1.8%</text>
<text x="349" y="445.9">香港中央结算有限公司(陆股通) 2052万股 1.8%</text>
<text x="349" y="451.7">全国社保基金一一一组合 1265万股 1.1%</text>
<text x="349" y="457.4">全国社保基金一一三组合 1205万股 1.0%</text>
<text x="349" y="463.2">新余传承企业管理合伙企业(有限合伙) 1045万股 0.9%</text>
<text x="349" y="469">基本养老保险基金八零二组合 1036万股 0.9%</text>
<text x="349" y="474.8">其他股东</text>
</g>

<!-- ============ CHART 10-1 ============ -->
<text x="544.3" y="396.5" text-anchor="middle" style="font-size:4.8px;fill:#222">图10-1_总资产（百万元）</text>
<text x="544.3" y="401.6" text-anchor="middle" style="font-size:4.5px;fill:#222">2025年/44362</text>
<path d="M545,445 L545,409 A36,36 0 0 0 509.07,447.26 Z" fill="#ff0000"/>
<path d="M545,445 L509.07,447.26 A36,36 0 0 0 545,481 Z" fill="#ffc0cb"/>
<path d="M545,445 L545,481 A36,36 0 0 0 564.29,475.39 Z" fill="#daa520"/>
<path d="M545,445 L564.29,475.39 A36,36 0 0 0 566.16,474.12 Z" fill="#d2691e"/>
<path d="M545,445 L566.16,474.12 A36,36 0 0 0 567.95,472.74 Z" fill="#708090"/>
<path d="M545,445 L567.95,472.74 A36,36 0 0 0 578.47,431.75 Z" fill="#a9a9a9"/>
<path d="M545,445 L578.47,431.75 A36,36 0 0 0 575.39,425.71 Z" fill="#f08080"/>
<path d="M545,445 L575.39,425.71 A36,36 0 0 0 573.45,422.94 Z" fill="#32cd32"/>
<path d="M545,445 L573.45,422.94 A36,36 0 0 0 559.3,411.96 Z" fill="#c400c4"/>
<path d="M545,445 L559.3,411.96 A36,36 0 0 0 553.95,410.13 Z" fill="#deb887"/>
<path d="M545,445 L553.95,410.13 A36,36 0 0 0 545,409 Z" fill="#00ffff"/>
<g class="sm" text-anchor="middle">
<text x="518" y="434.6">- 货币资金26% -</text>
<text x="514" y="457.4">- 交易性金融资产24% -</text>
<text x="562.5" y="460.9">- 应收票据8% -</text>
<text x="568" y="450.1">- 存货20% -</text>
<text x="571.7" y="434.1">- 固定资产（合计）7% -</text>
</g>

<!-- ============ CHART 10-2 ============ -->
<text x="641.7" y="396.5" text-anchor="middle" style="font-size:4.8px;fill:#222">图10-2_总负债（百万元）</text>
<text x="641.7" y="401.6" text-anchor="middle" style="font-size:4.5px;fill:#222">2025年/23733</text>
<path d="M646.7,445 L646.7,409 A36,36 0 0 0 629.36,413.45 Z" fill="#cd5c5c"/>
<path d="M646.7,445 L629.36,413.45 A36,36 0 0 0 611.83,453.95 Z" fill="#ffa07a"/>
<path d="M646.7,445 L611.83,453.95 A36,36 0 0 0 646.7,481 A36,36 0 0 0 681.57,436.05 Z" fill="#4682b4"/>
<path d="M646.7,445 L681.57,436.05 A36,36 0 0 0 681.14,434.52 Z" fill="#1e90ff"/>
<path d="M646.7,445 L681.14,434.52 A36,36 0 0 0 680.17,431.75 Z" fill="#daa520"/>
<path d="M646.7,445 L680.17,431.75 A36,36 0 0 0 671.34,418.76 Z" fill="#d3d3d3"/>
<path d="M646.7,445 L671.34,418.76 A36,36 0 0 0 669.65,417.26 Z" fill="#ffa500"/>
<path d="M646.7,445 L669.65,417.26 A36,36 0 0 0 646.7,409 Z" fill="#00ffff"/>
<g class="sm" text-anchor="middle">
<text x="628.3" y="432.6">- 短期借款8% -</text>
<text x="617.5" y="441">- 应付票据21% -</text>
<text x="663.3" y="460.4">- 应付账款50% -</text>
<text x="660" y="432">- 其他11% -</text>
<text x="673.3" y="438">- 应付职工薪酬7% -</text>
</g>

<!-- bottom watermark -->
<text x="185" y="498" font-size="12" textLength="343" lengthAdjust="spacingAndGlyphs" style="fill:#c4c4c4">www.bxnb88.com 宝信年报 软著登字第4006027号 13911560877</text>
</svg>
</body></html>
